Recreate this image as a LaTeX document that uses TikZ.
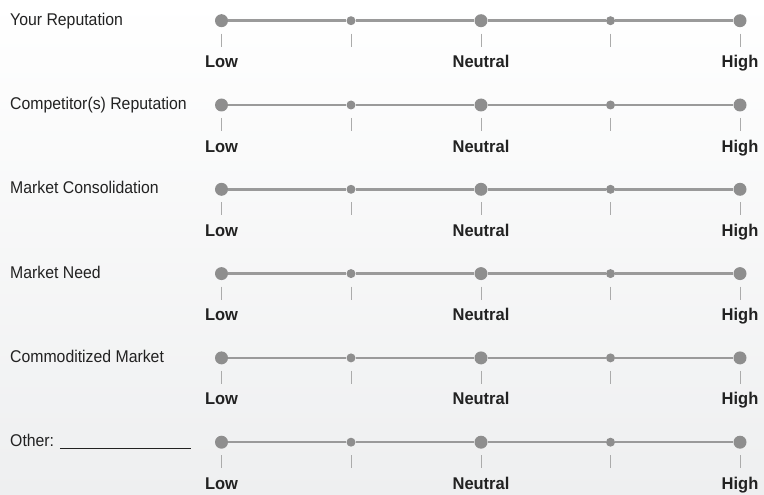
\documentclass[tikz,border=0pt]{standalone}
\usepackage{fontspec}
\setmainfont[FakeStretch=0.93,BoldFeatures={FakeStretch=0.97}]{Liberation Sans}
\usepackage{xcolor}
\usetikzlibrary{positioning}

\definecolor{dotgray}{HTML}{8E8E8E}
\definecolor{linegray}{HTML}{9A9A9A}
\definecolor{tickgray}{HTML}{ABABAB}
\definecolor{textgray}{HTML}{222222}
\definecolor{bggray}{HTML}{EEEFF0}

\begin{document}
\begin{tikzpicture}[x=1pt,y=-1pt,
  every node/.style={font=\fontsize{17}{20}\selectfont,text=textgray},
  bigdot/.style={circle,fill=dotgray,inner sep=0pt,minimum size=13pt},
  smalldot/.style={circle,fill=dotgray,inner sep=0pt,minimum size=9pt},
  scaleline/.style={line width=2.5pt,draw=linegray},
  tickline/.style={line width=0.8pt,draw=tickgray},
  endlabel/.style={anchor=base,inner sep=0pt,font=\fontsize{17}{20}\selectfont\bfseries},
  rowlabel/.style={anchor=base west,inner sep=0pt}]
  \shade[top color=white,bottom color=bggray] (0,0) rectangle (764,495);
  \useasboundingbox (0,0) rectangle (764,495);
  \foreach \lab [count=\r] in {Your Reputation,Competitor(s) Reputation,
      Market Consolidation,Market Need,Commoditized Market,
      {Other: \textcolor{textgray}{\rule[-2pt]{131pt}{0.7pt}}}} {
    \pgfmathsetmacro{\ry}{20.7+(\r-1)*84.3}
    \node[rowlabel] (lab\r) at (10,\ry+4.5) {\lab};
    % the five points of the scale
    \node[bigdot]   (p\r-1) at (221.5,\ry) {};
    \node[smalldot] (p\r-2) at (351,\ry) {};
    \node[bigdot]   (p\r-3) at (481,\ry) {};
    \node[smalldot] (p\r-4) at (610.5,\ry) {};
    \node[bigdot]   (p\r-5) at (740,\ry) {};
    \draw[scaleline] (p\r-1) -- (p\r-2) -- (p\r-3) -- (p\r-4) -- (p\r-5);
    \foreach \i in {1,...,5}
      \draw[tickline] ([yshift=-13pt]p\r-\i.center) -- ([yshift=-26pt]p\r-\i.center);
    \node[endlabel] (low\r) at ([yshift=-47pt]p\r-1.center) {Low};
    \node[endlabel] (mid\r) at ([yshift=-47pt]p\r-3.center) {Neutral};
    \node[endlabel] (high\r) at ([yshift=-47pt]p\r-5.center) {High};
  }
\end{tikzpicture}
\end{document}
